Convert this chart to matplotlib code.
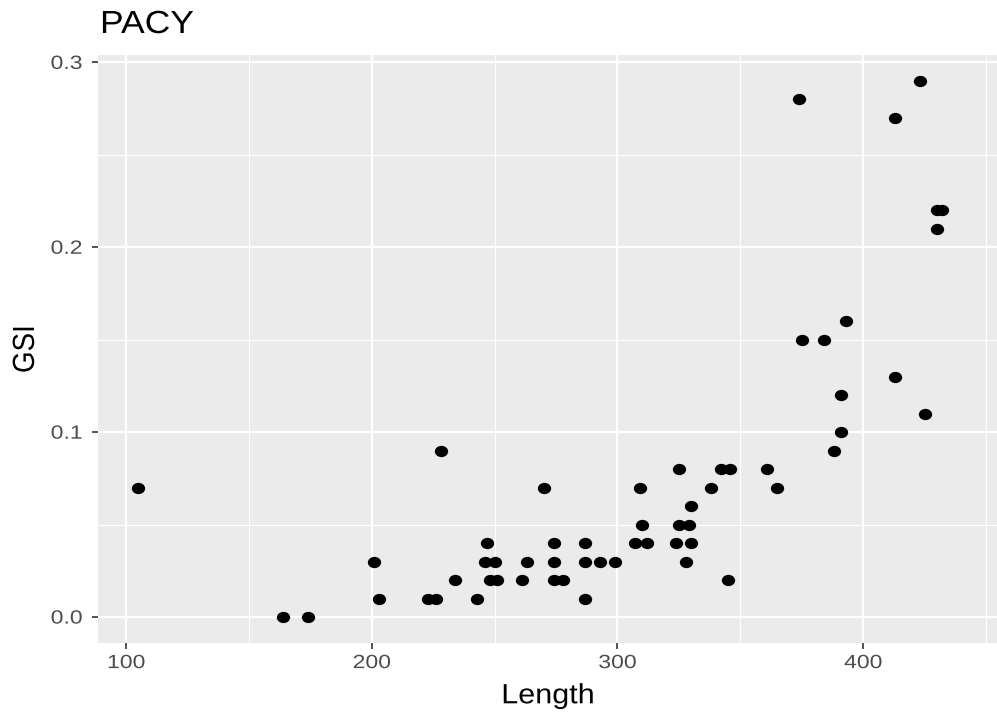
import matplotlib
matplotlib.use("Agg")
import matplotlib.pyplot as plt
from matplotlib.path import Path
from matplotlib.transforms import Affine2D
from matplotlib.ticker import MultipleLocator
from matplotlib.patheffects import AbstractPathEffect

# Fish length and gonadosomatic index for PACY
length = [105, 164, 174, 201, 203, 223, 226, 228, 234, 243,
          246, 247, 248, 250, 251, 261, 263, 270, 274, 274,
          274, 278, 287, 287, 287, 293, 299, 307, 309, 310,
          312, 324, 325, 325, 328, 329, 330, 330, 338, 342,
          345, 346, 361, 365, 374, 375, 384, 388, 391, 391,
          393, 413, 413, 423, 425, 430, 432, 430]
gsi = [0.07, 0.00, 0.00, 0.03, 0.01, 0.01, 0.01, 0.09, 0.02, 0.01,
       0.03, 0.04, 0.02, 0.03, 0.02, 0.02, 0.03, 0.07, 0.04, 0.03,
       0.02, 0.02, 0.04, 0.03, 0.01, 0.03, 0.03, 0.04, 0.07, 0.05,
       0.04, 0.04, 0.05, 0.08, 0.03, 0.05, 0.04, 0.06, 0.07, 0.08,
       0.02, 0.08, 0.08, 0.07, 0.28, 0.15, 0.15, 0.09, 0.12, 0.10,
       0.16, 0.27, 0.13, 0.29, 0.11, 0.22, 0.22, 0.21]

x_ticks = [100, 200, 300, 400]
y_ticks = [0.0, 0.1, 0.2, 0.3]


class Stretch(AbstractPathEffect):
    """Widen glyphs along one local axis, keeping an anchor point fixed."""

    def __init__(self, factor, anchor='center', axis='x'):
        super().__init__()
        self.factor = factor
        self.anchor = anchor
        self.axis = axis

    def draw_path(self, renderer, gc, tpath, affine, rgbFace=None):
        v = tpath.vertices
        if len(v) == 0:
            return
        if self.axis == 'x':
            lo, hi = v[:, 0].min(), v[:, 0].max()
        else:
            lo, hi = v[:, 1].min(), v[:, 1].max()
        c = {'left': lo, 'right': hi}.get(self.anchor, (lo + hi) / 2)
        if self.axis == 'x':
            pre = Affine2D().translate(-c, 0).scale(self.factor, 1).translate(c, 0)
        else:
            pre = Affine2D().translate(0, -c).scale(1, self.factor).translate(0, c)
        renderer.draw_path(gc, tpath, pre + affine, rgbFace)


W, H = 997, 715
plt.rcParams['font.family'] = ['Liberation Sans', 'DejaVu Sans']
fig = plt.figure(figsize=(W / 100, H / 100), dpi=100)

left, right, top, bottom = 98.3, 997, 55, 643.3
ax = fig.add_axes([left / W, 1 - bottom / H, (right - left) / W, (bottom - top) / H])
ax.set_facecolor('#EBEBEB')
for s in ax.spines.values():
    s.set_visible(False)

ax.set_xlim(88.7, 454.5)
ax.set_ylim(-0.0142, 0.3040)

ax.xaxis.set_minor_locator(MultipleLocator(50))
ax.yaxis.set_minor_locator(MultipleLocator(0.05))
ax.set_xticks(x_ticks)
ax.set_yticks(y_ticks)
ax.set_xticklabels([str(v) for v in x_ticks])
ax.set_yticklabels([f"{v:.1f}" for v in y_ticks])

ax.grid(which='major', color='white', linewidth=1.6)
ax.grid(which='minor', color='white', linewidth=0.8)
ax.set_axisbelow(True)

ax.tick_params(which='major', length=4, width=1.2, color='#333333',
               labelcolor='#4D4D4D', labelsize=13.8)
ax.tick_params(axis='x', which='major', pad=4.5)
ax.tick_params(axis='y', which='major', pad=7.5)
ax.tick_params(which='minor', length=0)

for lab in ax.get_xticklabels():
    lab.set_path_effects([Stretch(1.2, 'center')])
for lab in ax.get_yticklabels():
    lab.set_path_effects([Stretch(1.2, 'right')])

# slightly wide ellipse marker
ell = Path.unit_circle().transformed(Affine2D().scale(1.18, 1.0))
ax.scatter(length, gsi, s=92, marker=ell, color='black', linewidths=0, zorder=3)

ax.set_xlabel('Length', fontsize=20, color='black')
ax.xaxis.label.set_va('baseline')
ax.xaxis.set_label_coords(0.5, (bottom - 703.3) / (bottom - top))
ax.xaxis.label.set_path_effects([Stretch(1.1, 'center')])

ax.set_ylabel('GSI', fontsize=20, color='black')
ax.yaxis.label.set_va('center')
ax.yaxis.set_label_coords((26 - left) / (right - left), 0.5)
ax.yaxis.label.set_path_effects([Stretch(1.1, 'center', axis='y')])

fig.text(100 / W, 1 - 33 / H, 'PACY', fontsize=23, ha='left', va='baseline',
         path_effects=[Stretch(1.11, 'left')])

fig.savefig('out.png', dpi=100, facecolor='white')
